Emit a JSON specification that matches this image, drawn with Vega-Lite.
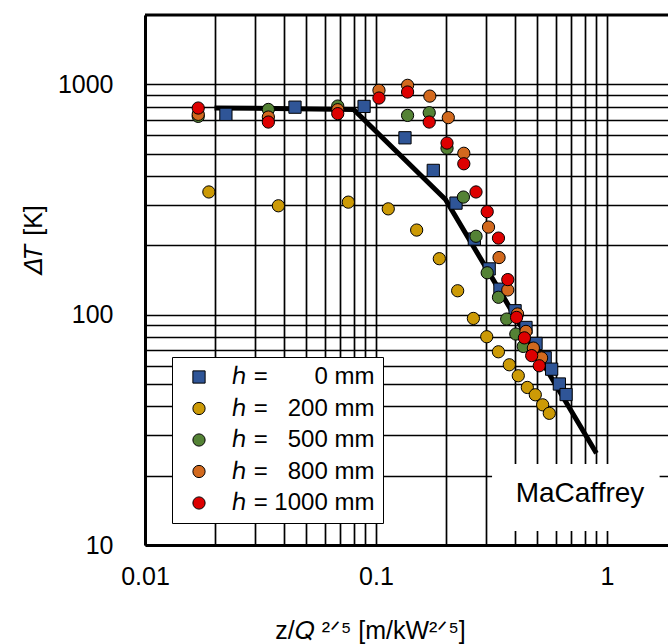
{
  "$schema": "https://vega.github.io/schema/vega-lite/v6.json",
  "width": 523,
  "height": 530,
  "autosize": {"type": "none"},
  "padding": {"left": 145, "top": 15, "right": 0, "bottom": 99},
  "background": "white",
  "config": {
    "font": "Liberation Sans",
    "view": {"stroke": null},
    "axis": {
      "grid": true,
      "gridColor": "black",
      "gridWidth": 1.7,
      "gridOpacity": 1,
      "domainColor": "black",
      "domainWidth": 3,
      "ticks": false,
      "tickSize": 0,
      "labelFont": "Liberation Sans",
      "labelFontSize": 25,
      "labelColor": "black",
      "labelOverlap": false,
      "labelFlush": false,
      "titleFont": "Liberation Sans",
      "titleFontSize": 25,
      "titleFontWeight": "normal",
      "titleColor": "black"
    }
  },
  "datasets": {
    "pts": [
      {"series": "h0", "x": 0.0224, "y": 741},
      {"series": "h0", "x": 0.0446, "y": 796},
      {"series": "h0", "x": 0.0888, "y": 802},
      {"series": "h0", "x": 0.1335, "y": 586},
      {"series": "h0", "x": 0.177, "y": 423},
      {"series": "h0", "x": 0.222, "y": 305},
      {"series": "h0", "x": 0.2665, "y": 213},
      {"series": "h0", "x": 0.309, "y": 158},
      {"series": "h0", "x": 0.344, "y": 129},
      {"series": "h0", "x": 0.4, "y": 104},
      {"series": "h0", "x": 0.446, "y": 88},
      {"series": "h0", "x": 0.493, "y": 75},
      {"series": "h0", "x": 0.54, "y": 65},
      {"series": "h0", "x": 0.576, "y": 58},
      {"series": "h0", "x": 0.622, "y": 50},
      {"series": "h0", "x": 0.665, "y": 45},
      {"series": "h200", "x": 0.0189, "y": 341},
      {"series": "h200", "x": 0.0378, "y": 297},
      {"series": "h200", "x": 0.0759, "y": 308},
      {"series": "h200", "x": 0.113, "y": 288},
      {"series": "h200", "x": 0.15, "y": 233},
      {"series": "h200", "x": 0.188, "y": 175},
      {"series": "h200", "x": 0.2257, "y": 127},
      {"series": "h200", "x": 0.264, "y": 96.3},
      {"series": "h200", "x": 0.3016, "y": 80.2},
      {"series": "h200", "x": 0.3388, "y": 69},
      {"series": "h200", "x": 0.3777, "y": 60.6},
      {"series": "h200", "x": 0.413, "y": 54.3},
      {"series": "h200", "x": 0.452, "y": 48.3},
      {"series": "h200", "x": 0.4894, "y": 44.9},
      {"series": "h200", "x": 0.5267, "y": 40.6},
      {"series": "h200", "x": 0.5627, "y": 37.3},
      {"series": "h500", "x": 0.017, "y": 726},
      {"series": "h500", "x": 0.0342, "y": 778},
      {"series": "h500", "x": 0.0683, "y": 805},
      {"series": "h500", "x": 0.137, "y": 733},
      {"series": "h500", "x": 0.17, "y": 753},
      {"series": "h500", "x": 0.203, "y": 528},
      {"series": "h500", "x": 0.239, "y": 324},
      {"series": "h500", "x": 0.271, "y": 219},
      {"series": "h500", "x": 0.303, "y": 152},
      {"series": "h500", "x": 0.339, "y": 119},
      {"series": "h500", "x": 0.368, "y": 95.7},
      {"series": "h500", "x": 0.403, "y": 82.4},
      {"series": "h500", "x": 0.434, "y": 72.8},
      {"series": "h800", "x": 0.017, "y": 741},
      {"series": "h800", "x": 0.0342, "y": 721},
      {"series": "h800", "x": 0.0683, "y": 776},
      {"series": "h800", "x": 0.103, "y": 942},
      {"series": "h800", "x": 0.137, "y": 990},
      {"series": "h800", "x": 0.171, "y": 889},
      {"series": "h800", "x": 0.2056, "y": 717},
      {"series": "h800", "x": 0.24, "y": 502},
      {"series": "h800", "x": 0.307, "y": 240},
      {"series": "h800", "x": 0.341, "y": 177},
      {"series": "h800", "x": 0.372, "y": 128},
      {"series": "h800", "x": 0.41, "y": 100.7},
      {"series": "h800", "x": 0.446, "y": 84.6},
      {"series": "h800", "x": 0.48, "y": 71.6},
      {"series": "h800", "x": 0.521, "y": 64.9},
      {"series": "h1000", "x": 0.017, "y": 789},
      {"series": "h1000", "x": 0.0342, "y": 686},
      {"series": "h1000", "x": 0.0683, "y": 746},
      {"series": "h1000", "x": 0.103, "y": 872},
      {"series": "h1000", "x": 0.137, "y": 926},
      {"series": "h1000", "x": 0.17, "y": 686},
      {"series": "h1000", "x": 0.203, "y": 556},
      {"series": "h1000", "x": 0.24, "y": 452},
      {"series": "h1000", "x": 0.271, "y": 341},
      {"series": "h1000", "x": 0.303, "y": 280},
      {"series": "h1000", "x": 0.339, "y": 215},
      {"series": "h1000", "x": 0.372, "y": 142},
      {"series": "h1000", "x": 0.406, "y": 97.3},
      {"series": "h1000", "x": 0.439, "y": 79.3},
      {"series": "h1000", "x": 0.472, "y": 66.4},
      {"series": "h1000", "x": 0.509, "y": 60}
    ],
    "mac": [
      {"x": 0.02, "y": 790},
      {"x": 0.08, "y": 778},
      {"x": 0.2, "y": 316},
      {"x": 0.9, "y": 25}
    ],
    "box": [
      {"x": 0.318, "x2": 1.69, "y": 22.5, "y2": 11.5}
    ],
    "top": [
      {"y": 2000}
    ],
    "label": [
      {"x": 0.764, "y": 16.7, "text": "MaCaffrey"}
    ]
  },
  "encoding": {
    "x": {
      "field": "x",
      "type": "quantitative",
      "scale": {"type": "log", "domain": [0.01, 1.837], "nice": false},
      "axis": {
        "values": [0.01, 0.02, 0.03, 0.04, 0.05, 0.06, 0.07, 0.08, 0.09, 0.1, 0.2, 0.3, 0.4, 0.5, 0.6, 0.7, 0.8, 0.9, 1],
        "labelExpr": "datum.value == 0.01 ? '0.01' : (datum.value == 0.1 ? '0.1' : (datum.value == 1 ? '1' : ''))",
        "labelPadding": 19,
        "title": "z/𝑄 ²ᐟ⁵ [m/kW²ᐟ⁵]",
        "titleX": 225,
        "titleY": 93,
        "titleBaseline": "alphabetic",
        "titleAlign": "center"
      }
    },
    "y": {
      "field": "y",
      "type": "quantitative",
      "scale": {"type": "log", "domain": [10, 2000], "nice": false},
      "axis": {
        "values": [10, 20, 30, 40, 50, 60, 70, 80, 90, 100, 200, 300, 400, 500, 600, 700, 800, 900, 1000],
        "labelExpr": "datum.value == 10 ? '10' : (datum.value == 100 ? '100' : (datum.value == 1000 ? '1000' : ''))",
        "labelPadding": 32,
        "title": "𝛥𝑇 [K]",
        "titleX": -104,
        "titleY": 225,
        "titleAngle": -90,
        "titleBaseline": "alphabetic",
        "titleAlign": "center"
      }
    }
  },
  "layer": [
    {
      "data": {"name": "box"},
      "mark": {"type": "rect", "fill": "white", "stroke": null},
      "encoding": {"x2": {"field": "x2"}, "y2": {"field": "y2"}}
    },
    {
      "data": {"name": "top"},
      "mark": {"type": "rule", "color": "black", "strokeWidth": 3},
      "encoding": {"x": null}
    },
    {
      "data": {"name": "mac"},
      "mark": {"type": "line", "color": "black", "strokeWidth": 5},
      "encoding": {}
    },
    {
      "data": {"name": "pts"},
      "mark": {"type": "point", "filled": true, "size": 150, "stroke": "black", "strokeWidth": 1, "opacity": 1},
      "encoding": {
        "color": {
          "field": "series",
          "type": "nominal",
          "scale": {
            "domain": ["h0", "h200", "h500", "h800", "h1000"],
            "range": ["#2F5597", "#CC9A06", "#548235", "#D2691E", "#DD0000"]
          },
          "legend": {
            "title": null,
            "orient": "none",
            "legendX": 27,
            "legendY": 342,
            "fillColor": "white",
            "strokeColor": "black",
            "padding": 8,
            "symbolOffset": 7,
            "symbolSize": 150,
            "symbolStrokeColor": "black",
            "symbolStrokeWidth": 1,
            "labelFontSize": 24,
            "labelFont": "Liberation Sans",
            "labelColor": "black",
            "labelOffset": 21,
            "labelLimit": 300,
            "rowPadding": 7.5,
            "labelExpr": "datum.value == 'h0' ? 'ℎ =\u2007\u2007\u2007 0 mm\u00a0' : (datum.value == 'h200' ? 'ℎ =\u2007 200 mm\u00a0' : (datum.value == 'h500' ? 'ℎ =\u2007 500 mm\u00a0' : (datum.value == 'h800' ? 'ℎ =\u2007 800 mm\u00a0' : 'ℎ = 1000 mm\u00a0')))"
          }
        },
        "shape": {
          "field": "series",
          "type": "nominal",
          "scale": {
            "domain": ["h0", "h200", "h500", "h800", "h1000"],
            "range": ["square", "circle", "circle", "circle", "circle"]
          },
          "legend": null
        }
      }
    },
    {
      "data": {"name": "label"},
      "mark": {"type": "text", "fontSize": 28, "font": "Liberation Sans", "color": "black", "align": "center", "baseline": "middle"},
      "encoding": {"text": {"field": "text"}}
    }
  ]
}
